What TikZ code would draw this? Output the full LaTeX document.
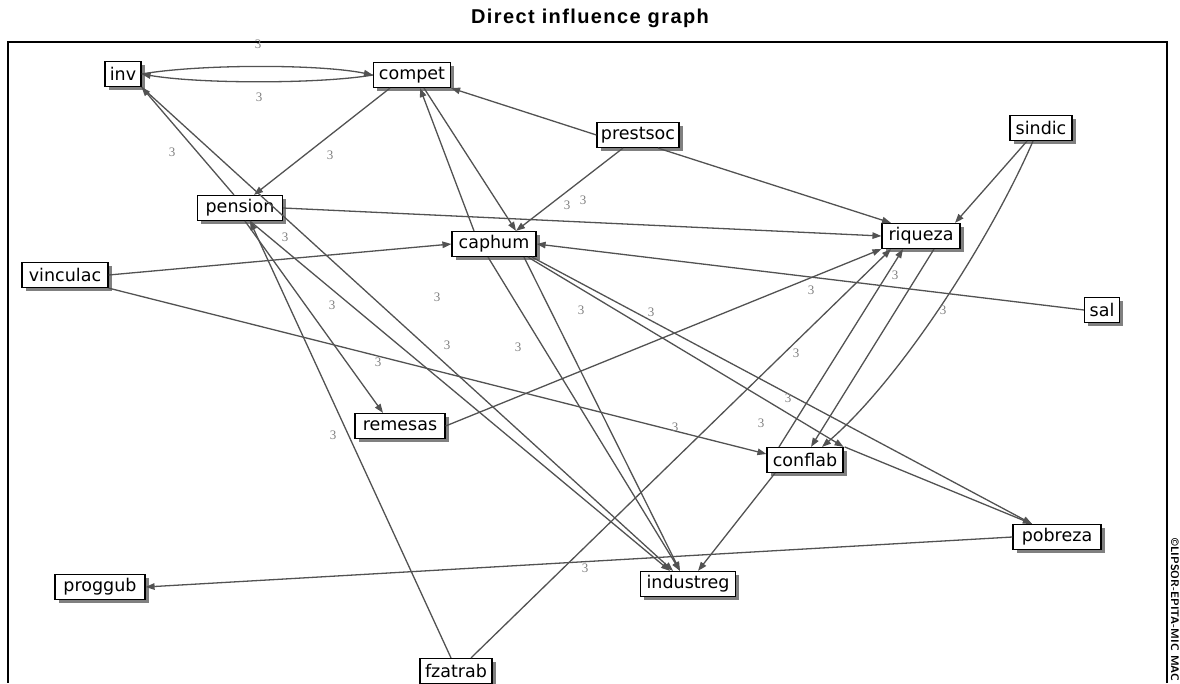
\documentclass[tikz,border=0pt]{standalone}
\usepackage{fontspec}
\setmainfont{DejaVu Sans}
\newfontfamily\titlefont[LetterSpace=7]{Liberation Sans}
\newfontfamily\lblfont{Liberation Serif}
\usetikzlibrary{arrows.meta,shadows}
\begin{document}
\begin{tikzpicture}[x=1pt,y=-1pt,
  var/.style={draw=black,line width=1.2pt,fill=white,inner sep=1pt,
    minimum height=25pt,font=\fontsize{17.5}{17.5}\selectfont,
    drop shadow={shadow xshift=3.5pt,shadow yshift=-3.5pt,fill=black!50,opacity=1}},
  infl/.style={draw=black!68,line width=1.3pt,-{Triangle[length=9pt,width=6.5pt]}},
  wt/.style={font=\lblfont\fontsize{13}{13}\selectfont,text=black!50,inner sep=0pt}
]
\useasboundingbox (0,0) rectangle (1180,683);
% title and frame
\node[font=\titlefont\bfseries\fontsize{20}{20}\selectfont] (title) at (590,18) {Direct influence graph};
\draw[line width=1.4pt] (1167,683) -- (1167,42) -- (8,42) -- (8,683);
\node[rotate=-90,font=\bfseries\sffamily\fontsize{11}{11}\selectfont,inner sep=0pt] (copy) at (1175,610) {\textcopyright LIPSOR-EPITA-MIC MAC};

% nodes
\node[var,minimum width=36pt] (inv) at (123,74) {inv};
\node[var,minimum width=77pt] (compet) at (412,75) {compet};
\node[var,minimum width=82pt] (prestsoc) at (638,135) {prestsoc};
\node[var,minimum width=62pt] (sindic) at (1041,128) {sindic};
\node[var,minimum width=85pt] (pension) at (240,208) {pension};
\node[var,minimum width=78pt] (riqueza) at (921,236) {riqueza};
\node[var,minimum width=84pt] (caphum) at (494,244) {caphum};
\node[var,minimum width=86pt] (vinculac) at (65,275) {vinculac};
\node[var,minimum width=35pt] (sal) at (1102,310) {sal};
\node[var,minimum width=90pt] (remesas) at (400,426) {remesas};
\node[var,minimum width=76pt] (conflab) at (805,460) {conflab};
\node[var,minimum width=88pt] (pobreza) at (1057,537) {pobreza};
\node[var,minimum width=90pt] (proggub) at (100,587) {proggub};
\node[var,minimum width=95pt] (industreg) at (688,584) {industreg};
\node[var,minimum width=72pt] (fzatrab) at (456,671) {fzatrab};

% connectors
\draw[infl] (inv.east) .. controls (200,64) and (320,64) .. (compet.west);
\draw[infl] (compet.west) .. controls (320,84) and (200,84) .. (inv.east);
\draw[infl] ([xshift=-6pt]pension.north) -- (inv.south east);
\draw[infl] (inv.south east) -- ([xshift=-15pt]industreg.north);
\draw[infl] ([xshift=-22pt]compet.south) -- ([xshift=14pt]pension.north);
\draw[infl] (prestsoc.west) -- (compet.south east);
\draw[infl] ([xshift=-20pt]caphum.north) -- ([xshift=8pt]compet.south);
\draw[infl] ([xshift=12pt]compet.south) -- ([xshift=22pt]caphum.north);
\draw[infl] ([xshift=-15pt]prestsoc.south) -- ([xshift=22pt]caphum.north);
\draw[infl] ([xshift=20pt]prestsoc.south) -- ([xshift=-30pt]riqueza.north);
\draw[infl] (pension.east) -- (riqueza.west);
\draw[infl] (vinculac.east) -- (caphum.west);
\draw[infl] (vinculac.south east) -- ([yshift=6pt]conflab.west);
\draw[infl] (sal.west) -- (caphum.east);
\draw[infl] ([xshift=38pt]caphum.south) -- ([xshift=-25pt]pobreza.north);
\draw[infl] ([xshift=34pt]caphum.south) -- (conflab.north east);
\draw[infl] ([xshift=1pt]conflab.north east) -- ([xshift=-25pt]pobreza.north);
\draw[infl] ([xshift=-6pt]caphum.south) -- ([xshift=-8pt]industreg.north);
\draw[infl] ([xshift=30pt]caphum.south) -- ([xshift=-8pt]industreg.north);
\draw[infl] ([xshift=5pt]pension.south) -- ([xshift=-17pt]remesas.north);
\draw[infl] ([xshift=-5pt]fzatrab.north) -- ([xshift=10pt]pension.south);
\draw[infl] ([xshift=10pt]pension.south) -- ([xshift=-18pt]industreg.north);
\draw[infl] (remesas.east) -- (riqueza.south west);
\draw[infl] ([xshift=15pt]fzatrab.north) -- ([xshift=-30pt]riqueza.south);
\draw[infl] (pobreza.west) -- (proggub.east);
\draw[infl] ([xshift=-30pt]conflab.south) -- ([xshift=10pt]industreg.north);
\draw[infl] ([xshift=-26pt]conflab.north) -- ([xshift=-18pt]riqueza.south);
\draw[infl] ([xshift=13pt]riqueza.south) -- ([xshift=6pt]conflab.north);
\draw[infl] ([xshift=-14pt]sindic.south) -- ([xshift=34pt]riqueza.north);
\draw[infl] ([xshift=-8pt]sindic.south) .. controls (990,240) and (900,380) .. ([xshift=17pt]conflab.north);

% weights
\node[wt] (w1) at (258,44) {3};
\node[wt] (w2) at (259,97) {3};
\node[wt] (w3) at (172,152) {3};
\node[wt] (w4) at (330,155) {3};
\node[wt] (w5) at (567,205) {3};
\node[wt] (w6) at (583,200) {3};
\node[wt] (w7) at (285,237) {3};
\node[wt] (w8) at (437,297) {3};
\node[wt] (w9) at (332,305) {3};
\node[wt] (w10) at (447,345) {3};
\node[wt] (w11) at (378,362) {3};
\node[wt] (w12) at (333,435) {3};
\node[wt] (w13) at (518,347) {3};
\node[wt] (w14) at (581,310) {3};
\node[wt] (w15) at (651,312) {3};
\node[wt] (w16) at (811,290) {3};
\node[wt] (w17) at (895,275) {3};
\node[wt] (w18) at (943,310) {3};
\node[wt] (w19) at (796,353) {3};
\node[wt] (w20) at (788,398) {3};
\node[wt] (w21) at (761,423) {3};
\node[wt] (w22) at (675,427) {3};
\node[wt] (w23) at (585,568) {3};
\end{tikzpicture}
\end{document}
